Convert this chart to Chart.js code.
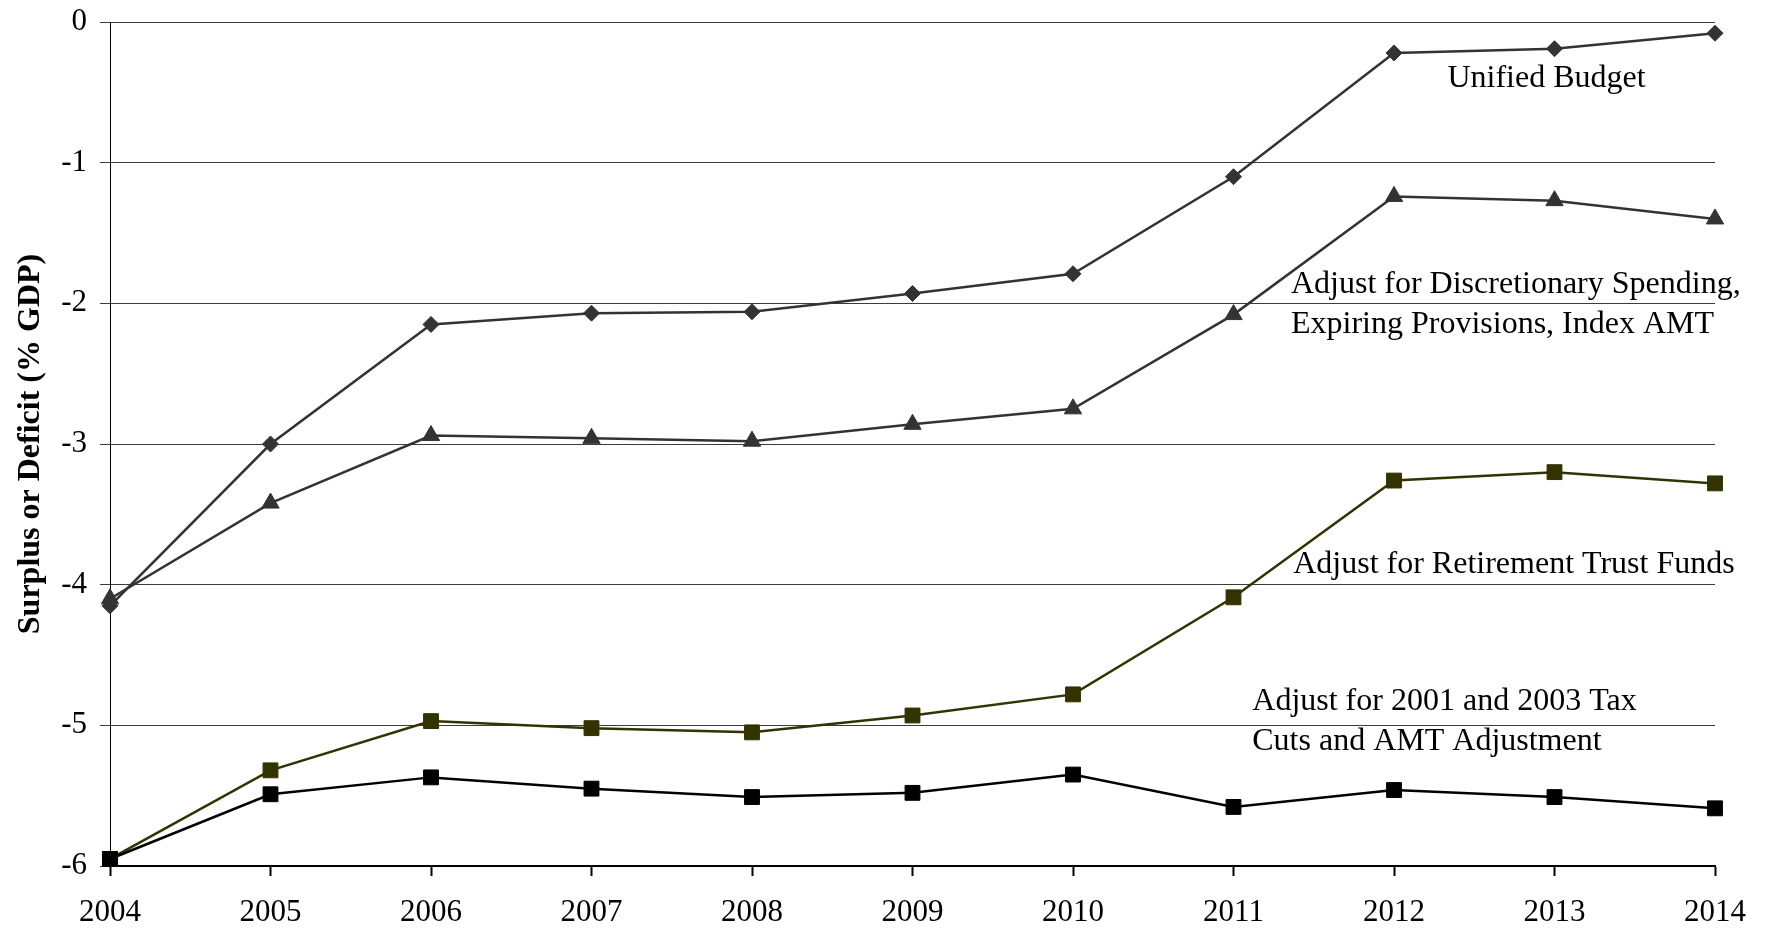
<!DOCTYPE html>
<html>
<head>
<meta charset="utf-8">
<script src="https://cdn.jsdelivr.net/npm/chart.js@4.4.1/dist/chart.umd.min.js"></script>
<style>
  html, body { margin: 0; padding: 0; background: #ffffff; }
  #wrap { width: 1765px; height: 928px; }
</style>
</head>
<body>
<div id="wrap"><canvas id="chart" width="1765" height="928"></canvas></div>
<script>
// Fiscal years on the horizontal axis
const years = ['2004', '2005', '2006', '2007', '2008', '2009', '2010', '2011', '2012', '2013', '2014'];

// Surplus (+) or deficit (-) as a share of GDP
const unifiedBudget = [-4.15, -3.00, -2.15, -2.07, -2.06, -1.93, -1.79, -1.10, -0.22, -0.19, -0.08];
const adjDiscretionary = [-4.10, -3.42, -2.94, -2.96, -2.98, -2.86, -2.75, -2.08, -1.24, -1.27, -1.40];
const adjRetirement = [-5.95, -5.32, -4.97, -5.02, -5.05, -4.93, -4.78, -4.09, -3.26, -3.20, -3.28];
const adjTaxCuts = [-5.95, -5.49, -5.37, -5.45, -5.51, -5.48, -5.35, -5.58, -5.46, -5.51, -5.59];

// Value-axis ticks
const yTicks = [0, -1, -2, -3, -4, -5, -6];

const seriesNames = [
  'Unified Budget',
  'Adjust for Discretionary Spending, Expiring Provisions, Index AMT',
  'Adjust for Retirement Trust Funds',
  'Adjust for 2001 and 2003 Tax Cuts and AMT Adjustment'
];

const yTitle = 'Surplus or Deficit (% GDP)';

const SERIF = '"Liberation Serif", "Times New Roman", serif';

// In-chart series labels, anchored in axis units (category index, value)
const seriesLabels = [
  { lines: ['Unified Budget'], x: 8.333, y: -0.462 },
  { lines: ['Adjust for Discretionary Spending,', 'Expiring Provisions, Index AMT'], x: 7.358, y: -1.929 },
  { lines: ['Adjust for Retirement Trust Funds'], x: 7.372, y: -3.919 },
  { lines: ['Adjust for 2001 and 2003 Tax', 'Cuts and AMT Adjustment'], x: 7.117, y: -4.891 }
];

const labelPlugin = {
  id: 'seriesLabels',
  afterDatasetsDraw(chart) {
    const { ctx, scales } = chart;
    ctx.save();
    ctx.fillStyle = '#000';
    ctx.font = '32px ' + SERIF;
    ctx.textAlign = 'left';
    ctx.textBaseline = 'alphabetic';
    seriesLabels.forEach(lbl => {
      const px = scales.x.getPixelForValue(lbl.x);
      const py = scales.y.getPixelForValue(lbl.y);
      lbl.lines.forEach((t, i) => ctx.fillText(t, px, py + i * 40));
    });
    ctx.restore();
  }
};

const yTitlePlugin = {
  id: 'yTitle',
  afterDraw(chart) {
    const { ctx, chartArea } = chart;
    ctx.save();
    ctx.fillStyle = '#000';
    ctx.font = 'bold 32px ' + SERIF;
    ctx.textAlign = 'center';
    ctx.textBaseline = 'alphabetic';
    ctx.translate(39, (chartArea.top + chartArea.bottom) / 2);
    ctx.rotate(-Math.PI / 2);
    ctx.fillText(yTitle, 0, 0);
    ctx.restore();
  }
};

const lineStyle = (label, data, color, pointStyle, radius) => ({
  label,
  data,
  borderColor: color,
  backgroundColor: color,
  borderWidth: 2.5,
  pointStyle,
  pointRadius: radius,
  pointHoverRadius: radius,
  pointBorderWidth: 1,
  pointBorderColor: color,
  pointBackgroundColor: color,
  tension: 0,
  fill: false,
  clip: false
});

new Chart(document.getElementById('chart'), {
  type: 'line',
  data: {
    labels: years,
    datasets: [
      lineStyle(seriesNames[0], unifiedBudget, '#333333', 'rectRot', 8),
      lineStyle(seriesNames[3], adjTaxCuts, '#000000', 'rect', 10.5),
      lineStyle(seriesNames[1], adjDiscretionary, '#333333', 'triangle', 10),
      lineStyle(seriesNames[2], adjRetirement, '#333300', 'rect', 10.5)
    ]
  },
  options: {
    responsive: false,
    animation: false,
    devicePixelRatio: 1,
    layout: { padding: { top: 22, right: 50, left: 0, bottom: 0 } },
    plugins: {
      legend: { display: false },
      tooltip: { enabled: false },
      title: { display: false }
    },
    scales: {
      x: {
        type: 'category',
        offset: false,
        grid: {
          drawOnChartArea: false,
          drawTicks: true,
          tickLength: 10,
          tickWidth: 2,
          tickColor: '#000'
        },
        border: { display: true, color: '#000', width: 2 },
        ticks: {
          color: '#000',
          font: { family: SERIF, size: 31 },
          padding: 18,
          maxRotation: 0,
          autoSkip: false
        },
        afterFit(scale) {
          scale.height = 62;
          scale.paddingLeft = 0;
          scale.paddingRight = 0;
        }
      },
      y: {
        type: 'linear',
        min: -6,
        max: 0,
        afterBuildTicks(scale) { scale.ticks = yTicks.map(v => ({ value: v })); },
        grid: {
          color: '#3c3c3c',
          lineWidth: 1,
          drawTicks: true,
          tickLength: 10,
          tickColor: '#3c3c3c'
        },
        border: { display: true, color: '#000', width: 1 },
        ticks: {
          color: '#000',
          font: { family: SERIF, size: 31 },
          padding: 13,
          callback: v => String(v)
        },
        afterFit(scale) {
          scale.width = 110;
          scale.paddingTop = 0;
          scale.paddingBottom = 0;
        }
      }
    }
  },
  plugins: [labelPlugin, yTitlePlugin]
});
</script>
</body>
</html>
